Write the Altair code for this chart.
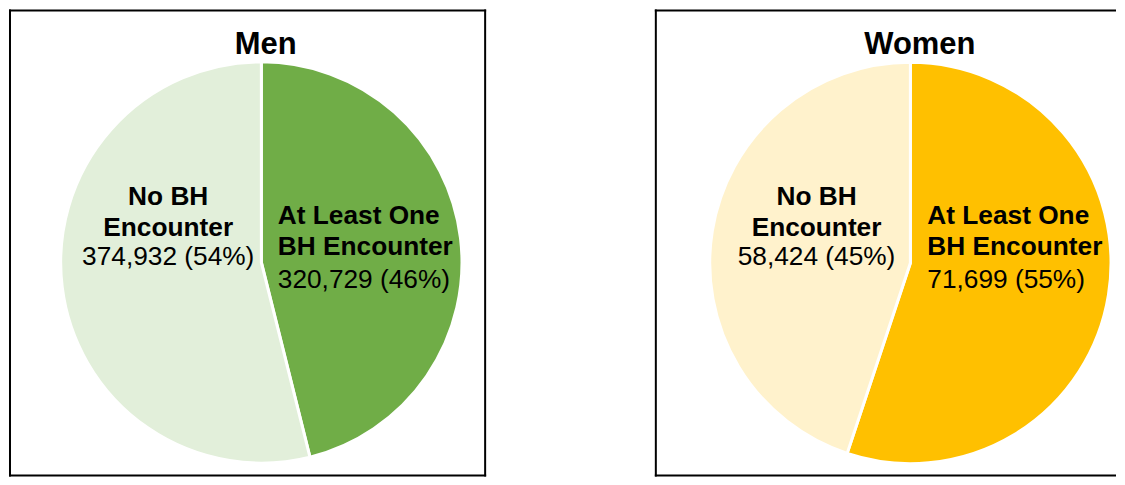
import altair as alt
import pandas as pd

# ---- data ----
groups = ["Men", "Women"]
categories = ["At Least One BH Encounter", "No BH Encounter"]
label_lines = [["At Least One", "BH Encounter"], ["No BH", "Encounter"]]
men_counts = [320729, 374932]
women_counts = [71699, 58424]
men_colors = ["#70AD47", "#E2EFDA"]
women_colors = ["#FFC000", "#FFF2CC"]

FONT = "Liberation Sans"
H = 468


def count_text(count, total):
    return f"{count:,} ({round(100 * count / total)}%)"


def panel(title, counts, colors, width, cx, cy, title_x, left_lab, right_lab, right_border):
    total = sum(counts)
    df = pd.DataFrame({"category": categories, "count": counts, "idx": list(range(len(categories)))})
    pie = alt.Chart(df).mark_arc(radius=201, stroke="white", strokeWidth=3).encode(
        theta=alt.Theta("count:Q", stack=True),
        color=alt.Color("category:N", scale=alt.Scale(domain=categories, range=colors), legend=None),
        order=alt.Order("idx:Q"),
        x=alt.value(cx),
        y=alt.value(cy),
    )
    layers = [pie]
    ttl = alt.Chart(pd.DataFrame({"t": [title]})).mark_text(
        font=FONT, fontSize=31, fontWeight="bold", align="center", baseline="alphabetic", color="black"
    ).encode(text="t:N", x=alt.value(title_x), y=alt.value(44.5))
    layers.append(ttl)
    specs = [(0, right_lab, "left"), (1, left_lab, "center")]
    for i, (lx, ly1, ly3), align in specs:
        bold = alt.Chart(pd.DataFrame({"t": ["\n".join(label_lines[i])]})).mark_text(
            font=FONT, fontSize=26.3, fontWeight="bold", align=align, baseline="alphabetic",
            lineBreak="\n", lineHeight=30.5, color="black"
        ).encode(text="t:N", x=alt.value(lx), y=alt.value(ly1))
        num = alt.Chart(pd.DataFrame({"t": [count_text(counts[i], total)]})).mark_text(
            font=FONT, fontSize=26.3, align=align, baseline="alphabetic", color="black"
        ).encode(text="t:N", x=alt.value(lx), y=alt.value(ly3))
        layers += [bold, num]
    one = pd.DataFrame({"a": [0]})
    border = [
        alt.Chart(one).mark_rule(color="black", strokeWidth=2).encode(
            x=alt.value(1), y=alt.value(0), y2=alt.value(H)),
        alt.Chart(one).mark_rule(color="black", strokeWidth=2).encode(
            x=alt.value(0), x2=alt.value(width), y=alt.value(1)),
        alt.Chart(one).mark_rule(color="black", strokeWidth=2).encode(
            x=alt.value(0), x2=alt.value(width), y=alt.value(H - 1)),
    ]
    if right_border:
        border.append(
            alt.Chart(one).mark_rule(color="black", strokeWidth=2).encode(
                x=alt.value(width - 1), y=alt.value(0), y2=alt.value(H)))
    layers += border
    return alt.layer(*layers).properties(width=width, height=H)


men = panel("Men", men_counts, men_colors, 478, 252.8, 253.5, 257.2,
            (159.5, 196.3, 256.0), (269.3, 215.3, 279.3), True)
women = panel("Women", women_counts, women_colors, 462, 256.0, 254.0, 265.5,
              (162.0, 196.3, 256.0), (273.0, 215.3, 279.3), False)

chart = alt.hconcat(men, women, spacing=167).resolve_scale(
    color="independent", theta="independent"
).properties(padding=0).configure_view(stroke=None)

chart.save("out.html", embed_options={"renderer": "svg", "actions": False})
